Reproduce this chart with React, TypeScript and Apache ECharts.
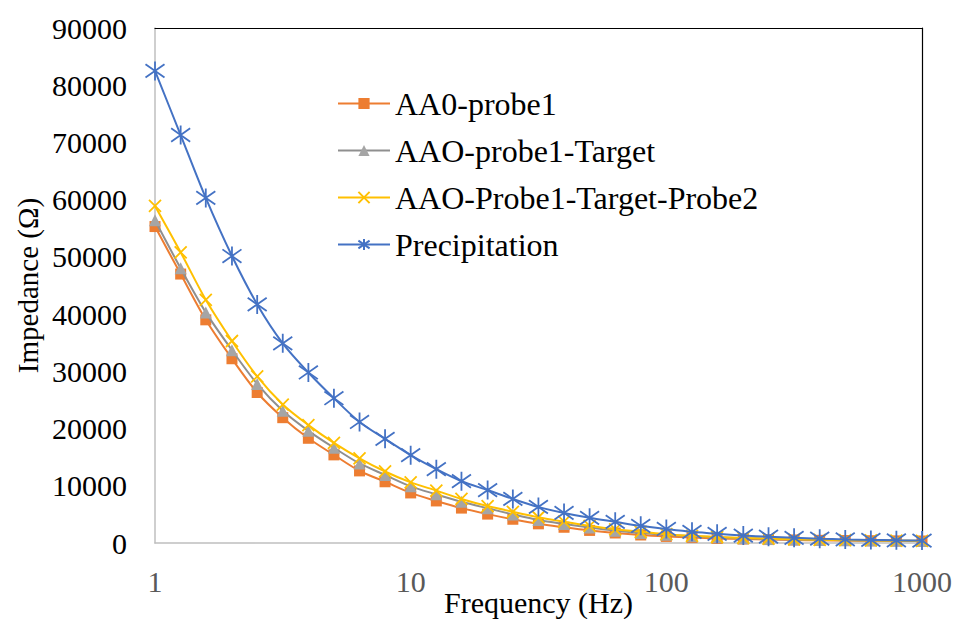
import React, { useEffect, useRef } from "react";
import * as echarts from "echarts";

const frequencies = [1, 1.26, 1.58, 2, 2.51, 3.16, 3.98, 5.01, 6.31, 7.94, 10, 12.6, 15.8, 20, 25.1, 31.6, 39.8, 50.1, 63.1, 79.4, 100, 126, 158, 200, 251, 316, 398, 501, 631, 794, 1000];

const aa0Probe1 = [55300, 47000, 39000, 32200, 26300, 21900, 18300, 15400, 12600, 10700, 8750, 7350, 6100, 5050, 4150, 3350, 2750, 2200, 1750, 1400, 1150, 950, 800, 700, 600, 530, 470, 430, 400, 370, 350];
const aaoProbe1Target = [56400, 48000, 40300, 33700, 27800, 23100, 19600, 16650, 13900, 11900, 9900, 8500, 7200, 6060, 5000, 4020, 3320, 2700, 2150, 1750, 1450, 1200, 1000, 850, 720, 620, 540, 480, 430, 390, 360];
const aaoProbe1TargetProbe2 = [58900, 50800, 42500, 35300, 29100, 24200, 20600, 17500, 14800, 12500, 10600, 9150, 7700, 6450, 5450, 4500, 3720, 3000, 2400, 1950, 1550, 1250, 1050, 880, 750, 640, 560, 490, 440, 400, 370];
const precipitation = [82500, 71300, 60300, 50150, 41700, 34900, 29800, 25300, 21150, 18200, 15350, 12900, 10800, 9250, 7700, 6300, 5250, 4400, 3700, 3000, 2450, 1950, 1600, 1300, 1100, 900, 750, 620, 540, 470, 420];

const seriesNames = ["AA0-probe1", "AAO-probe1-Target", "AAO-Probe1-Target-Probe2", "Precipitation"];

const FONT = "Liberation Serif";

function pairs(vals: number[]) {
  return frequencies.map((f, i) => [f, vals[i]]);
}

export default function App() {
  const ref = useRef<HTMLDivElement>(null);
  useEffect(() => {
    if (!ref.current) return;
    const chart = echarts.init(ref.current, undefined, { renderer: "svg" });
    const xSym = "path://M0,0L10,10M10,0L0,10";
    const starSym = "path://M0,1.5L10,8.5M10,1.5L0,8.5M5,0L5,10";
    chart.setOption({
      animation: false,
      backgroundColor: "#ffffff",
      textStyle: { fontFamily: FONT },
      grid: { left: 155, right: 36, top: 28, bottom: 76, containLabel: false, outerBoundsMode: "none" },
      legend: {
        orient: "vertical",
        left: 332,
        top: 81,
        itemGap: 12,
        itemWidth: 52,
        itemHeight: 14,
        textStyle: { fontFamily: FONT, fontSize: 32, color: "#000", lineHeight: 35 },
        data: seriesNames,
      },
      xAxis: [
        {
          type: "log",
          logBase: 10,
          min: 1,
          max: 1000,
          name: "Frequency (Hz)",
          nameLocation: "middle",
          nameGap: 44,
          nameMoveOverlap: false,
          nameTextStyle: { fontFamily: FONT, fontSize: 30, color: "#000" },
          axisLine: { show: true, lineStyle: { color: "#bfbfbf", width: 1.5 } },
          axisTick: { show: false },
          splitLine: { show: false },
          minorTick: { show: false },
          axisLabel: { fontFamily: FONT, fontSize: 30, color: "#595959", margin: 23, formatter: (v: number) => String(v) },
        },
        {
          type: "log",
          logBase: 10,
          min: 1,
          max: 1000,
          position: "top",
          axisLine: { show: true, onZero: false, lineStyle: { color: "#000", width: 1.2 } },
          axisTick: { show: false },
          axisLabel: { show: false },
          splitLine: { show: false },
        },
      ],
      yAxis: [
        {
          type: "value",
          min: 0,
          max: 90000,
          interval: 10000,
          name: "Impedance (Ω)",
          nameLocation: "middle",
          nameGap: 113,
          nameMoveOverlap: false,
          nameTextStyle: { fontFamily: FONT, fontSize: 29, color: "#000" },
          axisLine: { show: true, lineStyle: { color: "#bfbfbf", width: 1.5 } },
          axisTick: { show: false },
          splitLine: { show: false },
          axisLabel: { fontFamily: FONT, fontSize: 30, color: "#000", margin: 28, formatter: (v: number) => String(v) },
        },
        {
          type: "value",
          min: 0,
          max: 90000,
          position: "right",
          axisLine: { show: true, lineStyle: { color: "#000", width: 1.2 } },
          axisTick: { show: false },
          axisLabel: { show: false },
          splitLine: { show: false },
        },
      ],
      series: [
        {
          name: seriesNames[0],
          type: "line",
          smooth: 0.3,
          data: pairs(aa0Probe1),
          symbol: "rect",
          symbolSize: 11,
          lineStyle: { color: "#ED7D31", width: 2 },
          itemStyle: { color: "#ED7D31" },
          z: 2,
        },
        {
          name: seriesNames[1],
          type: "line",
          smooth: 0.3,
          data: pairs(aaoProbe1Target),
          symbol: "triangle",
          symbolSize: 12,
          lineStyle: { color: "#8f8f8f", width: 2 },
          itemStyle: { color: "#A5A5A5" },
          z: 3,
        },
        {
          name: seriesNames[2],
          type: "line",
          smooth: 0.3,
          data: pairs(aaoProbe1TargetProbe2),
          symbol: xSym,
          symbolSize: 12,
          lineStyle: { color: "#FFC000", width: 2 },
          itemStyle: { color: "#FFC000", borderColor: "#FFC000", borderWidth: 1.8 },
          z: 4,
        },
        {
          name: seriesNames[3],
          type: "line",
          smooth: 0.3,
          data: pairs(precipitation),
          symbol: starSym,
          symbolSize: 19,
          lineStyle: { color: "#4472C4", width: 2 },
          itemStyle: { color: "#4472C4", borderColor: "#4472C4", borderWidth: 1.8 },
          z: 5,
        },
      ],
    });
    return () => chart.dispose();
  }, []);
  return <div ref={ref} style={{ width: 958, height: 619, position: "absolute", left: 0, top: 0 }} />;
}
